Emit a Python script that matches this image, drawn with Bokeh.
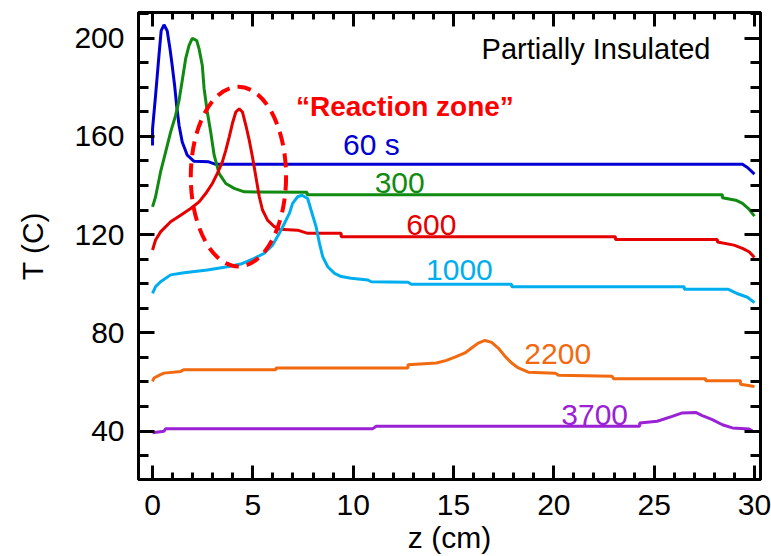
from bokeh.plotting import figure
from bokeh.models import LinearAxis, SingleIntervalTicker, Range1d, CustomJSTickFormatter, Label
from bokeh.embed import file_html
from bokeh.resources import INLINE

# ---------------- data ----------------
z60 = [0.0, 0.0, 0.15, 0.32, 0.43, 0.57, 0.73, 0.87, 0.98, 1.1, 1.2, 1.32, 1.48, 1.73, 2.07, 2.8, 3.15, 29.4, 29.65, 30.0]
T60 = [156.3, 163.0, 176.6, 192.9, 203.0, 205.4, 203.0, 195.6, 188.8, 180.7, 172.6, 164.5, 157.7, 152.3, 149.8, 149.6, 148.6, 148.6, 147.3, 144.6]

z300 = [0.0, 0.15, 0.4, 0.65, 0.9, 1.15, 1.32, 1.48, 1.65, 1.82, 1.98, 2.2, 2.32, 2.48, 2.57, 2.73, 2.9, 3.07, 3.32, 3.65, 4.07, 4.57, 7.7, 7.7, 28.4, 28.4, 29.07, 29.4, 29.7, 30.0]
T300 = [131.3, 135.4, 145.5, 153.6, 161.7, 168.5, 174.6, 182.7, 191.6, 197.0, 199.9, 199.0, 195.6, 188.8, 179.4, 169.9, 161.7, 152.3, 144.8, 140.8, 138.8, 137.4, 137.2, 136.2, 136.2, 135.0, 134.0, 132.7, 130.6, 127.5]

z600 = [0.0, 0.15, 0.4, 0.9, 1.4, 1.9, 2.32, 2.65, 2.98, 3.23, 3.48, 3.65, 3.82, 3.98, 4.15, 4.32, 4.48, 4.65, 4.82, 4.98, 5.15, 5.32, 5.48, 5.73, 6.07, 6.32, 7.23, 7.73, 9.4, 9.4, 23.07, 23.07, 28.15, 28.15, 28.98, 29.4, 29.73, 30.0]
T600 = [113.7, 117.8, 121.1, 125.2, 127.9, 130.6, 133.3, 136.7, 140.8, 144.9, 149.6, 154.3, 159.7, 165.2, 169.9, 171.2, 169.9, 164.5, 158.4, 151.6, 143.5, 135.4, 130.0, 125.9, 123.2, 122.2, 121.8, 120.5, 120.5, 119.1, 119.1, 118.0, 118.0, 117.0, 115.7, 114.4, 113.0, 110.7]

z1000 = [0.0, 0.15, 0.4, 0.9, 1.57, 2.73, 3.73, 4.4, 5.07, 5.57, 5.98, 6.32, 6.57, 6.82, 6.98, 7.23, 7.45, 7.73, 7.9, 8.15, 8.32, 8.48, 8.73, 9.07, 9.4, 9.9, 10.73, 10.9, 12.73, 12.9, 17.9, 17.9, 26.5, 26.5, 28.7, 29.2, 29.65, 30.0]
T1000 = [96.1, 98.8, 100.8, 103.6, 104.5, 105.6, 106.9, 108.0, 110.3, 112.4, 115.7, 120.5, 124.5, 128.6, 132.7, 135.4, 136.0, 134.7, 130.0, 123.2, 116.4, 111.0, 106.9, 104.2, 102.9, 102.2, 101.5, 100.8, 100.6, 99.8, 99.8, 98.8, 98.8, 97.7, 97.7, 95.8, 94.5, 92.3]

z2200 = [0.0, 0.07, 0.4, 0.57, 1.4, 1.57, 6.15, 6.15, 12.73, 12.73, 14.15, 14.65, 15.07, 15.57, 15.9, 16.23, 16.57, 16.9, 17.23, 17.57, 17.9, 18.23, 18.73, 20.07, 20.23, 22.9, 22.98, 27.57, 27.57, 29.3, 29.3, 30.0]
T2200 = [60.2, 61.6, 63.0, 63.6, 64.3, 65.0, 65.0, 65.7, 65.7, 67.0, 67.7, 68.8, 70.1, 71.8, 73.8, 75.8, 76.9, 76.1, 73.8, 70.4, 67.7, 65.7, 64.0, 63.6, 62.7, 62.3, 61.3, 61.3, 60.5, 60.5, 59.1, 58.2]

z3700 = [0.0, 0.57, 0.65, 10.98, 11.15, 24.28, 24.28, 25.15, 25.9, 26.4, 27.07, 27.4, 27.9, 28.4, 28.9, 29.73, 29.9]
T3700 = [39.3, 39.9, 41.0, 41.0, 42.0, 42.0, 43.3, 44.0, 46.0, 47.4, 47.6, 46.3, 44.7, 42.6, 41.3, 40.9, 40.0]

series_z = [z60, z300, z600, z1000, z2200, z3700]
series_T = [T60, T300, T600, T1000, T2200, T3700]
series_names = ["60 s", "300", "600", "1000", "2200", "3700"]

x_tick_interval = 5
y_tick_interval = 40

# ---------------- styling / positions ----------------
colors = ["#0000d4", "#118a11", "#e50000", "#00aeef", "#f26a10", "#9a22d4"]
label_x = [9.49, 11.07, 12.65, 13.63, 18.53, 20.37]
label_y = [156.8, 141.0, 123.9, 105.6, 71.3, 46.4]

FONT = "Liberation Sans"
FS = "30px"

p = figure(width=771, height=556, output_backend="svg", toolbar_location=None,
           x_range=Range1d(-0.7, 30.3), y_range=Range1d(20.3, 210.4),
           min_border_left=138, min_border_right=11, min_border_top=12, min_border_bottom=76,
           x_axis_location=None, y_axis_location=None)
p.grid.visible = False
p.background_fill_color = "white"
p.border_fill_color = "white"
p.outline_line_color = "black"
p.outline_line_width = 3


def style_axis(ax, major_in, minor_in, show_labels):
    ax.axis_line_width = 3
    ax.axis_line_color = "black"
    ax.major_tick_in = major_in
    ax.major_tick_out = 0
    ax.minor_tick_in = minor_in
    ax.minor_tick_out = 0
    ax.major_tick_line_width = 3
    ax.minor_tick_line_width = 3
    ax.major_tick_line_color = "black"
    ax.minor_tick_line_color = "black"
    ax.major_label_text_font = FONT
    ax.major_label_text_font_size = FS
    ax.major_label_text_color = "black"
    ax.axis_label_text_font = FONT
    ax.axis_label_text_font_size = FS
    ax.axis_label_text_font_style = "normal"
    ax.axis_label_text_color = "black"
    if not show_labels:
        ax.formatter = CustomJSTickFormatter(code="return ''")
        ax.major_label_standoff = 0


xb = LinearAxis(ticker=SingleIntervalTicker(interval=x_tick_interval, num_minor_ticks=5), axis_label="z (cm)")
style_axis(xb, 14, 7, True)
xb.major_label_standoff = 15
xb.axis_label_standoff = 3
xb.axis_label_text_line_height = 0.7
p.add_layout(xb, "below")

xt = LinearAxis(ticker=SingleIntervalTicker(interval=x_tick_interval, num_minor_ticks=5))
style_axis(xt, 14, 7, False)
p.add_layout(xt, "above")

yl = LinearAxis(ticker=SingleIntervalTicker(interval=y_tick_interval, num_minor_ticks=4), axis_label="T (C)")
style_axis(yl, 16, 10, True)
yl.major_label_standoff = 14
yl.axis_label_standoff = 22
p.add_layout(yl, "left")

yr = LinearAxis(ticker=SingleIntervalTicker(interval=y_tick_interval, num_minor_ticks=4))
style_axis(yr, 16, 10, False)
p.add_layout(yr, "right")

for zs, Ts, c in zip(series_z, series_T, colors):
    p.line(zs, Ts, line_color=c, line_width=3)

for name, lx, ly, c in zip(series_names, label_x, label_y, colors):
    p.add_layout(Label(x=lx, y=ly, text=name, text_color=c, text_font=FONT,
                       text_font_size=FS, text_baseline="alphabetic", text_align="left"))

# reaction zone ellipse
zone_x, zone_y, zone_w, zone_h = 4.28, 143.6, 4.75, 73.1
p.ellipse(x=[zone_x], y=[zone_y], width=[zone_w], height=[zone_h], fill_color=None,
          line_color="#ff0000", line_width=4, line_dash="14 8")

p.add_layout(Label(x=7.15, y=172.2, text="\u201cReaction zone\u201d", text_color="#ff0000",
                   text_font=FONT, text_font_size="28px", text_font_style="bold",
                   text_baseline="alphabetic", text_align="left"))
p.add_layout(Label(x=16.4, y=195.6, text="Partially Insulated", text_color="black",
                   text_font=FONT, text_font_size="29px",
                   text_baseline="alphabetic", text_align="left"))

open("out.html", "w").write(file_html(p, INLINE))
